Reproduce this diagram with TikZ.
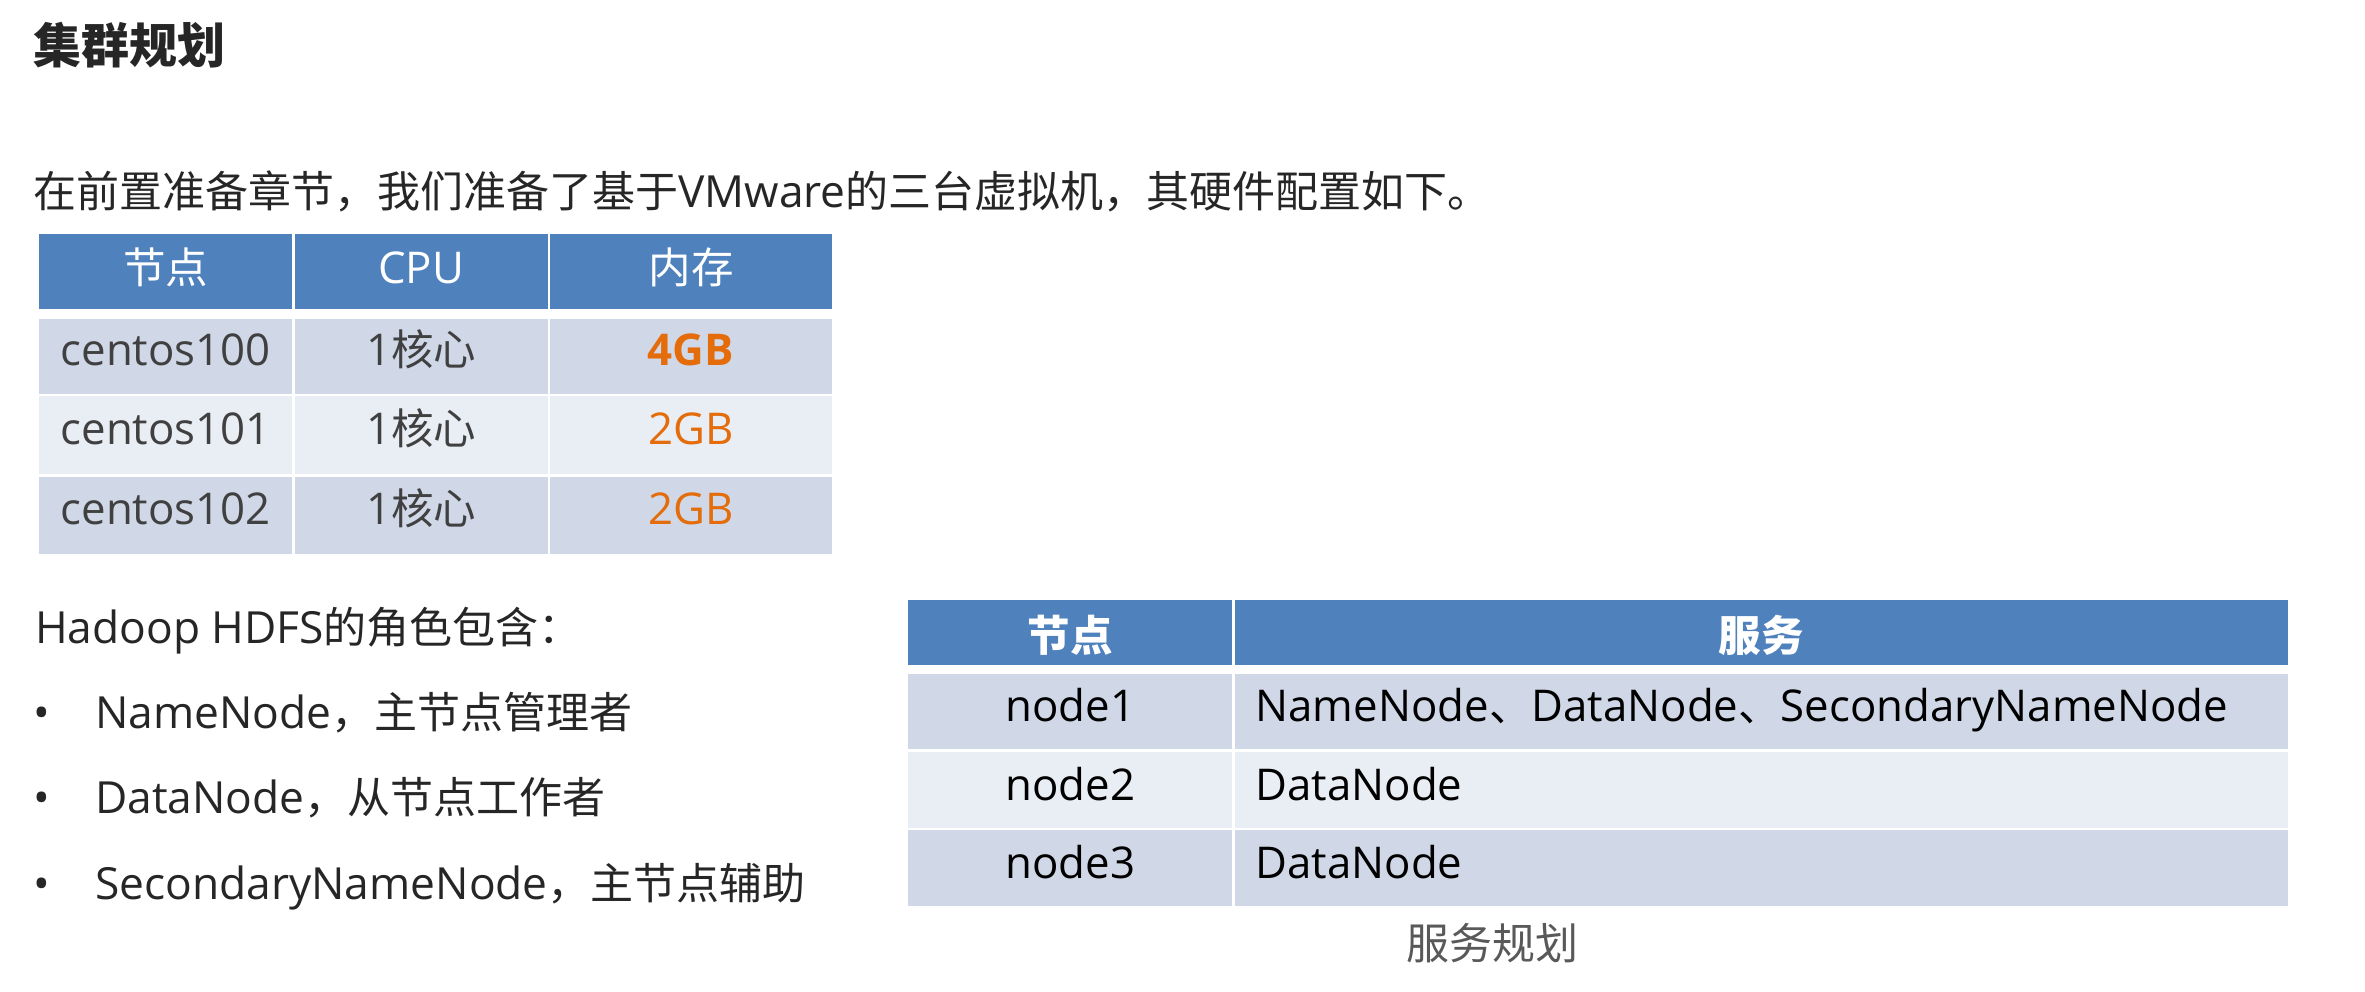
\documentclass[tikz,border=0pt]{standalone}
\usepackage{fontspec}
\setmainfont[Scale=1.03]{Open Sans}
\newfontfamily\cjk{Noto Sans CJK SC}
\usetikzlibrary{positioning}
\definecolor{hblue}{RGB}{79,129,189}
\definecolor{rdark}{RGB}{208,216,232}
\definecolor{rlight}{RGB}{233,237,244}
\definecolor{corange}{RGB}{228,108,10}
\definecolor{tgray}{RGB}{64,64,64}
\definecolor{tdark}{RGB}{38,38,38}
\definecolor{cgray}{RGB}{89,89,89}

% Chinese characters in Noto Sans CJK, the rest in Open Sans
\XeTeXinterchartokenstate=1
\newXeTeXintercharclass\cjkclass
\newcount\cjkcode
\cjkcode="4E00 \loop\XeTeXcharclass\cjkcode=\cjkclass\advance\cjkcode by 1 \ifnum\cjkcode<"A000 \repeat
\cjkcode="3000 \loop\XeTeXcharclass\cjkcode=\cjkclass\advance\cjkcode by 1 \ifnum\cjkcode<"3040 \repeat
\cjkcode="FF00 \loop\XeTeXcharclass\cjkcode=\cjkclass\advance\cjkcode by 1 \ifnum\cjkcode<"FFF0 \repeat
\XeTeXinterchartoks 0 \cjkclass = {\cjk}
\XeTeXinterchartoks 4095 \cjkclass = {\cjk}
\XeTeXinterchartoks \cjkclass 0 = {\rmfamily}
\XeTeXinterchartoks \cjkclass 4095 = {\rmfamily}

\begin{document}
\begin{tikzpicture}[x=1pt,y=-1pt,
  every node/.style={inner sep=0pt,font=\fontsize{43}{50}\selectfont},
  line text/.style={anchor=base west,text=tdark},
  head cell/.style={rectangle,fill=hblue,text=white,font=\fontsize{42.5}{50}\selectfont,
    text height=34pt,text depth=10pt},
  host cell/.style={rectangle,text=tgray,font=\fontsize{42.5}{50}\selectfont,
    text height=30pt,text depth=12pt},
  role head/.style={rectangle,fill=hblue,text=white,font=\fontsize{42.5}{50}\selectfont\bfseries,
    minimum height=65pt,text height=40pt,text depth=2pt},
  role cell/.style={rectangle,text=black,font=\fontsize{42.5}{50}\selectfont,
    text height=30pt,text depth=10pt},
  left cell/.style={role cell,text width=1011pt,inner xsep=21pt,align=left}]
  \useasboundingbox (0,0) rectangle (2365,991);

  % title and text
  \node[line text,font=\fontsize{48}{56}\selectfont\bfseries] (title) at (33,63) {集群规划};
  \node[line text] (intro) at (33,207) {在前置准备章节，我们准备了基于VMware的三台虚拟机，其硬件配置如下。};

  % hardware table
  \node[head cell,anchor=north west,minimum width=253pt,minimum height=75pt] (h1) at (39,234) {节点};
  \node[head cell,minimum width=253pt,minimum height=75pt,right=2pt of h1] (h2) {CPU};
  \node[head cell,minimum width=282pt,minimum height=75pt,right=2pt of h2] (h3) {内存};

  \node[host cell,fill=rdark,minimum width=253pt,minimum height=75pt,below=9pt of h1] (r11) {centos100};
  \node[host cell,fill=rdark,minimum width=253pt,minimum height=75pt,right=2pt of r11] (r12) {1核心};
  \node[host cell,fill=rdark,minimum width=282pt,minimum height=75pt,right=2pt of r12,
    text=corange,font=\fontsize{42.5}{50}\selectfont\bfseries] (r13) {4GB};

  \node[host cell,fill=rlight,minimum width=253pt,minimum height=78pt,below=2pt of r11] (r21) {centos101};
  \node[host cell,fill=rlight,minimum width=253pt,minimum height=78pt,right=2pt of r21] (r22) {1核心};
  \node[host cell,fill=rlight,minimum width=282pt,minimum height=78pt,right=2pt of r22,text=corange] (r23) {2GB};

  \node[host cell,fill=rdark,minimum width=253pt,minimum height=77pt,below=3pt of r21] (r31) {centos102};
  \node[host cell,fill=rdark,minimum width=253pt,minimum height=77pt,right=2pt of r31] (r32) {1核心};
  \node[host cell,fill=rdark,minimum width=282pt,minimum height=77pt,right=2pt of r32,text=corange] (r33) {2GB};

  % roles
  \node[line text] (roles) at (35,643) {Hadoop HDFS的角色包含：};
  \node[line text] (b1) at (33,728) {•};
  \node[line text] (nn) at (95,728) {NameNode，主节点管理者};
  \node[line text] (b2) at (33,813) {•};
  \node[line text] (dn) at (95,813) {DataNode，从节点工作者};
  \node[line text] (b3) at (33,899) {•};
  \node[line text] (snn) at (95,899) {SecondaryNameNode，主节点辅助};

  % service table
  \node[role head,anchor=north west,minimum width=324pt] (g1) at (908,600) {节点};
  \node[role head,minimum width=1053pt,right=2pt of g1] (g2) {服务};

  \node[role cell,fill=rdark,minimum width=324pt,minimum height=75pt,below=8pt of g1] (s11) {node1};
  \node[left cell,fill=rdark,minimum height=75pt,right=2pt of s11] (s12) {NameNode、DataNode、SecondaryNameNode};
  \node[role cell,fill=rlight,minimum width=324pt,minimum height=76pt,below=3pt of s11] (s21) {node2};
  \node[left cell,fill=rlight,minimum height=76pt,right=2pt of s21] (s22) {DataNode};
  \node[role cell,fill=rdark,minimum width=324pt,minimum height=76pt,below=2pt of s21] (s31) {node3};
  \node[left cell,fill=rdark,minimum height=76pt,right=2pt of s31] (s32) {DataNode};

  \node[anchor=base,text=cgray] (cap) at (1492,959) {服务规划};
\end{tikzpicture}
\end{document}
